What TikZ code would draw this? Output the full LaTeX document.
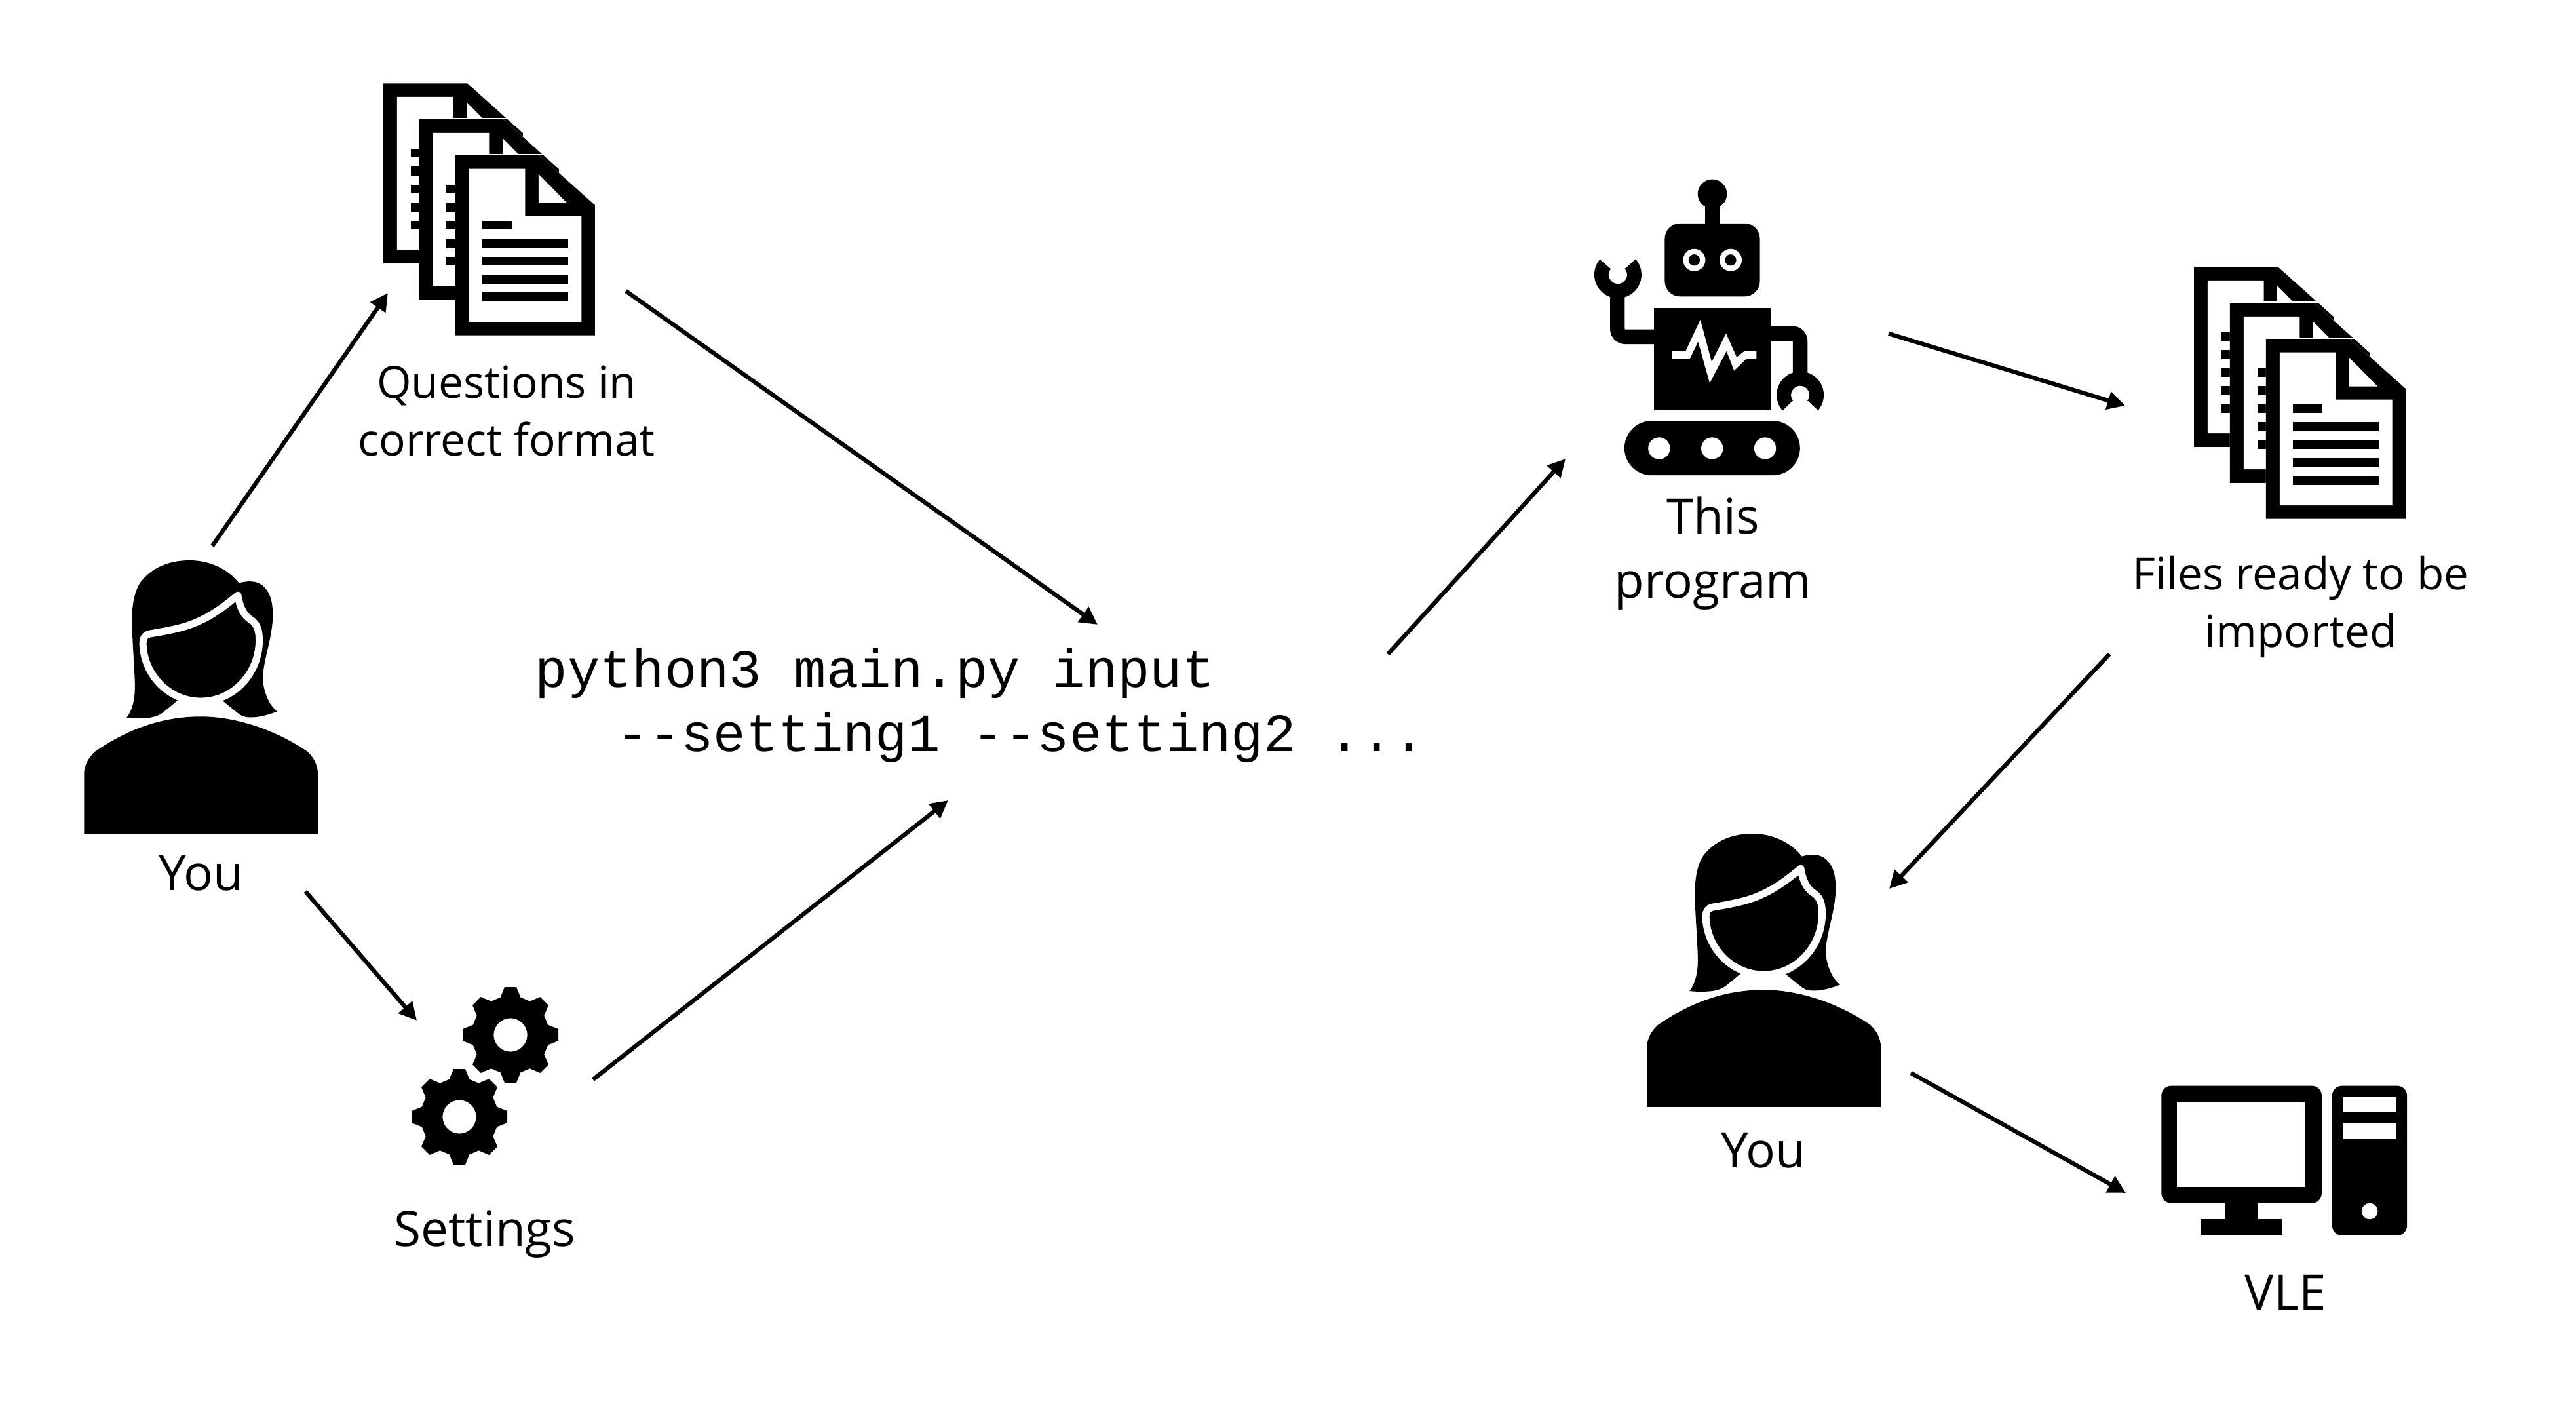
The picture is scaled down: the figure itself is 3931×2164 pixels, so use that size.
\documentclass[tikz,border=0pt]{standalone}
\usepackage{fontspec}
\setmainfont{Open Sans}
\newfontfamily\codefont{Liberation Mono}
\usetikzlibrary{arrows.meta}
\tikzset{
  flow/.style={line width=0.064cm,-{Triangle[length=0.27cm,width=0.27cm]}},
  biglabel/.style={align=center,inner sep=0pt,font=\fontsize{21.2}{27.9}\selectfont},
  smalllabel/.style={align=center,inner sep=0pt,font=\fontsize{19.2}{25}\selectfont},
  codelabel/.style={align=left,inner sep=0pt,font=\codefont\fontsize{23.4}{27.9}\selectfont},
  icon/.style={x=0.0033333cm,y=-0.0033333cm},
  personunits/.style={x=0.0033333cm,y=-0.0035714cm}
}
\newcommand{\oneDoc}[2]{%
  \begin{scope}[shift={(#1,#2)}]
    \fill (405,412) -- (790,412) -- (1045,640) -- (1045,1237) -- (405,1237) -- cycle;
    \fill[white] (468,474) -- (725,474) -- (725,690) -- (984,690) -- (984,1175) -- (468,1175) -- cycle;
    \fill[white] (787,498) -- (917,630) -- (787,630) -- cycle;
    \fill (530,712) rectangle (664,752);
    \fill (530,794) rectangle (922,834);
    \fill (530,876) rectangle (922,917);
    \fill (530,959) rectangle (922,1000);
    \fill (530,1041) rectangle (922,1082);
  \end{scope}}
\newcommand{\oneCover}[2]{%
  \begin{scope}[shift={(#1,#2)}]
    \fill[white] (405,412) -- (790,412) -- (1045,640) -- (1045,1237) -- (405,1237) -- cycle;
    \fill[white] (405,405) rectangle (820,412);
  \end{scope}}
\newcommand{\docsIcon}[2]{%
  \begin{scope}[shift={(#1,#2)},icon]
    \oneDoc{-330}{-330}
    \oneCover{-165}{-165}
    \oneDoc{-165}{-165}
    \oneCover{0}{0}
    \oneDoc{0}{0}
  \end{scope}}
\newcommand{\personIcon}[2]{%
  \begin{scope}[shift={(#1,#2)},personunits]
    \fill (280,770) .. controls (310,735) and (320,680) .. (318,620)
      .. controls (314,520) and (305,430) .. (305,350)
      .. controls (305,290) and (315,230) .. (345,190)
      .. controls (400,125) and (480,98) .. (570,98)
      .. controls (660,98) and (745,135) .. (795,195)
      .. controls (830,185) and (870,185) .. (895,200)
      .. controls (935,225) and (952,270) .. (950,340)
      .. controls (948,430) and (905,530) .. (905,600)
      .. controls (905,650) and (930,715) .. (970,743)
      .. controls (930,758) and (880,770) .. (845,768)
      .. controls (820,768) and (805,762) .. (790,750)
      -- (720,697) -- (515,695) -- (450,745)
      .. controls (430,760) and (400,772) .. (350,772)
      .. controls (325,773) and (300,772) .. (280,770) -- cycle;
    \filldraw[draw=white,line width=0.11cm,line join=round]
      (790,247) .. controls (800,300) and (815,330) .. (850,352)
      .. controls (880,370) and (888,400) .. (888,440)
      .. controls (888,580) and (770,700) .. (620,700)
      .. controls (470,700) and (355,580) .. (355,450)
      .. controls (355,430) and (365,415) .. (385,412)
      .. controls (480,397) and (550,385) .. (610,358)
      .. controls (680,330) and (740,285) .. (790,247) -- cycle;
    \fill (85,1265) -- (1157,1265) -- (1157,1010)
      .. controls (1157,970) and (1135,935) .. (1105,912)
      .. controls (950,815) and (770,765) .. (620,765)
      .. controls (450,765) and (290,815) .. (135,915)
      .. controls (105,940) and (85,975) .. (85,1010) -- cycle;
  \end{scope}}
\newcommand{\gearIcon}[2]{%
  \begin{scope}[shift={(#1,#2)},icon]
    \fill[even odd rule] (-15:178)
      \foreach \a in {0,45,...,315}{ -- (\a-15:178) -- (\a-7:221) -- (\a+7:221) -- (\a+15:178)}
      -- cycle (0,0) circle[radius=77];
  \end{scope}}
\newcommand{\robotIcon}[2]{%
  \begin{scope}[shift={(#1,#2)},icon]
    \fill (640,138) circle[radius=67];
    \fill (607,170) rectangle (673,290);
    \fill[rounded corners=0.233cm] (422,273) rectangle (858,608);
    \fill[white] (557,441) circle[radius=51] (724,441) circle[radius=51];
    \fill (557,441) circle[radius=26] (724,441) circle[radius=26];
    \fill (372,660) rectangle (908,1128);
    \fill[white] (456,860) -- (517,860) -- (585,715) -- (637,908) -- (703,778) -- (752,887)
      -- (785,860) -- (842,860) -- (842,893) -- (797,893) -- (740,948) -- (705,858)
      -- (628,1005) -- (575,815) -- (537,893) -- (456,893) -- cycle;
    \draw[line width=0.2233cm] (372,793) -- (242,793) .. controls (220,793) and (205,778) .. (205,756) -- (205,590);
    \draw[line width=0.2233cm] (908,777) -- (1005,777) .. controls (1028,777) and (1043,792) .. (1043,815) -- (1043,980);
    \fill (207,508) circle[radius=108];
    \fill[white] (207,508) circle[radius=42];
    \fill[white] (173,480) -- (124,437) -- (95,400) -- (320,400) -- (288,437) -- (240,480) -- cycle;
    \fill (1043,1060) circle[radius=108];
    \fill[white] (1043,1060) circle[radius=42];
    \fill[white] (1008,1087) -- (962,1132) -- (935,1170) -- (1155,1170) -- (1126,1132) -- (1078,1087) -- cycle;
    \fill[rounded corners=0.4167cm] (237,1178) rectangle (1042,1428);
    \fill[white] (396,1304) circle[radius=50] (639,1304) circle[radius=50] (882,1304) circle[radius=50];
  \end{scope}}
\newcommand{\pcIcon}[2]{%
  \begin{scope}[shift={(#1,#2)},icon]
    \fill[rounded corners=0.15cm] (85,80) rectangle (820,618);
    \fill[white] (157,153) rectangle (746,545);
    \fill (379,610) rectangle (526,700);
    \fill (268,692) rectangle (636,766);
    \fill[rounded corners=0.15cm] (868,80) rectangle (1211,766);
    \fill[white] (917,128) rectangle (1163,202);
    \fill[white] (917,251) rectangle (1163,325);
    \fill[white] (1040,655) circle[radius=37];
  \end{scope}}
\begin{document}
\begin{tikzpicture}[x=0.01cm,y=-0.01cm]
  \useasboundingbox (0,0) rectangle (3931,2164);
  \fill[white] (0,0) rectangle (3931,2164);
  \personIcon{100}{820}
  \docsIcon{560}{100}
  \gearIcon{779}{1579}
  \gearIcon{701}{1704}
  \robotIcon{2400}{250}
  \docsIcon{3323}{380}
  \personIcon{2485}{1237}
  \pcIcon{3270}{1630}
  \node[biglabel] (you1) at (307,1332) {You};
  \node[smalllabel] (questions) at (773,627) {Questions in\\correct format};
  \node[biglabel] (settings) at (740,1883) {Settings};
  \node[codelabel,anchor=north west] (cmd) at (816,988) {python3 main.py input\\\hspace*{35.3pt}--setting1 --setting2 ...};
  \node[biglabel] (program) at (2614,844) {This\\program};
  \node[smalllabel] (files) at (3511,926) {Files ready to be\\imported};
  \node[biglabel] (you2) at (2691,1755) {You};
  \node[biglabel] (vle) at (3488,1972) {VLE};
  \coordinate (a1s) at (324,833); \coordinate (a1e) at (592,447);
  \coordinate (a2s) at (466,1360); \coordinate (a2e) at (636,1557);
  \coordinate (a3s) at (955,444); \coordinate (a3e) at (1675,953);
  \coordinate (a4s) at (905,1647); \coordinate (a4e) at (1447,1221);
  \coordinate (a5s) at (2118,998); \coordinate (a5e) at (2389,700);
  \coordinate (a6s) at (2882,509); \coordinate (a6e) at (3243,619);
  \coordinate (a7s) at (3219,998); \coordinate (a7e) at (2883,1356);
  \coordinate (a8s) at (2916,1637); \coordinate (a8e) at (3244,1820);
  \foreach \n in {1,...,8} {\draw[flow] (a\n s) -- (a\n e);}
\end{tikzpicture}
\end{document}
